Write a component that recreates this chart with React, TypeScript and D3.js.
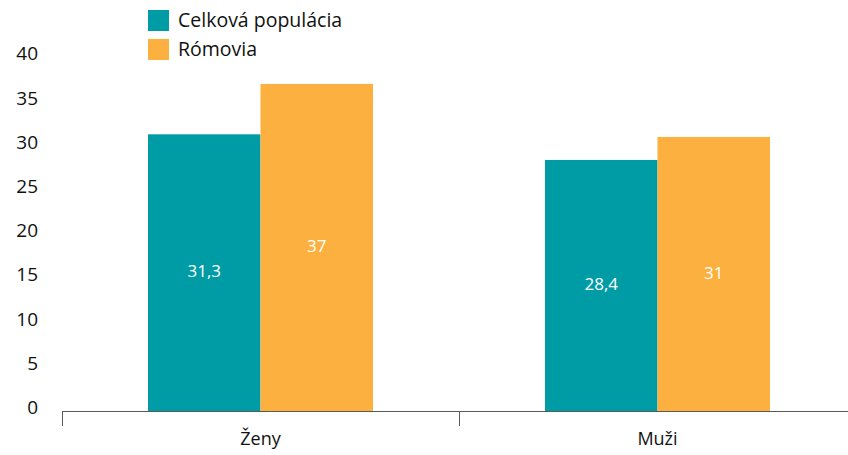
import { useEffect, useRef } from 'react';
import * as d3 from 'd3';

const categories = ['Ženy', 'Muži'];
const seriesNames = ['Celková populácia', 'Rómovia'];
const celkova = [31.3, 28.4];
const romovia = [37, 31];
const valueLabels = [['31,3', '37'], ['28,4', '31']];
const yTicks = [0, 5, 10, 15, 20, 25, 30, 35, 40];

const colors = ['#009ca6', '#fbb040'];
const font = '"Open Sans", "Noto Sans", sans-serif';
const ink = '#111111';

const App = () => {
  const svgRef = useRef<SVGSVGElement>(null);

  useEffect(() => {
    const svg = d3.select(svgRef.current);
    svg.selectAll('*').remove();

    const x = d3.scaleBand().domain(categories).range([62, 856]);
    const inner = d3.scaleBand().domain(seriesNames).range([86, 311]);
    const y = d3.scaleLinear().domain([0, 40]).range([411, 57.4]);

    // y labels, no axis line
    svg
      .append('g')
      .selectAll('text')
      .data(yTicks)
      .join('text')
      .attr('x', 38)
      .attr('y', (d) => y(d) - 2)
      .attr('text-anchor', 'end')
      .attr('dominant-baseline', 'middle')
      .attr('font-family', font)
      .attr('font-size', 19)
      .attr('fill', ink)
      .text((d) => d);

    const rows = categories.map((c, i) => ({
      cat: c,
      values: [celkova[i], romovia[i]],
      labels: valueLabels[i],
    }));

    const groups = svg
      .append('g')
      .selectAll('g')
      .data(rows)
      .join('g')
      .attr('transform', (d) => `translate(${x(d.cat)},0)`);

    groups
      .selectAll('rect')
      .data((d) => d.values.map((v, j) => ({ v, j })))
      .join('rect')
      .attr('x', (d) => inner(seriesNames[d.j])!)
      .attr('width', inner.bandwidth())
      .attr('y', (d) => y(d.v))
      .attr('height', (d) => y(0) - y(d.v))
      .attr('fill', (d) => colors[d.j]);

    groups
      .selectAll('text')
      .data((d) => d.values.map((v, j) => ({ v, j, label: d.labels[j] })))
      .join('text')
      .attr('x', (d) => inner(seriesNames[d.j])! + inner.bandwidth() / 2)
      .attr('y', (d) => (y(d.v) + y(0)) / 2)
      .attr('text-anchor', 'middle')
      .attr('dominant-baseline', 'middle')
      .attr('font-family', font)
      .attr('font-size', 17)
      .attr('fill', '#ffffff')
      .text((d) => d.label);

    // x axis
    const axis = svg.append('g');
    axis
      .append('line')
      .attr('x1', 62)
      .attr('x2', 848)
      .attr('y1', y(0) + 0.5)
      .attr('y2', y(0) + 0.5)
      .attr('stroke', '#595959')
      .attr('stroke-width', 1);
    axis
      .selectAll('line.tick')
      .data([62, 62 + x.step()])
      .join('line')
      .attr('class', 'tick')
      .attr('x1', (d) => d + 0.5)
      .attr('x2', (d) => d + 0.5)
      .attr('y1', y(0))
      .attr('y2', y(0) + 15)
      .attr('stroke', '#595959');
    axis
      .selectAll('text')
      .data(categories)
      .join('text')
      .attr('x', (d) => x(d)! + x.bandwidth() / 2)
      .attr('y', 440)
      .attr('text-anchor', 'middle')
      .attr('dominant-baseline', 'middle')
      .attr('font-family', font)
      .attr('font-size', 18)
      .attr('fill', ink)
      .text((d) => d);

    // legend
    const legend = svg
      .append('g')
      .selectAll('g')
      .data(seriesNames)
      .join('g')
      .attr('transform', (d, i) => `translate(148,${10 + i * 29})`);
    legend
      .append('rect')
      .attr('width', 21)
      .attr('height', 21)
      .attr('fill', (d, i) => colors[i]);
    legend
      .append('text')
      .attr('x', 30)
      .attr('y', 12)
      .attr('dominant-baseline', 'middle')
      .attr('font-family', font)
      .attr('font-size', 19.5)
      .attr('fill', ink)
      .text((d) => d);
  }, []);

  return (
    <svg
      ref={svgRef}
      width={848}
      height={455}
      style={{ position: 'absolute', left: 0, top: 0, background: '#fff' }}
    />
  );
};

export default App;
